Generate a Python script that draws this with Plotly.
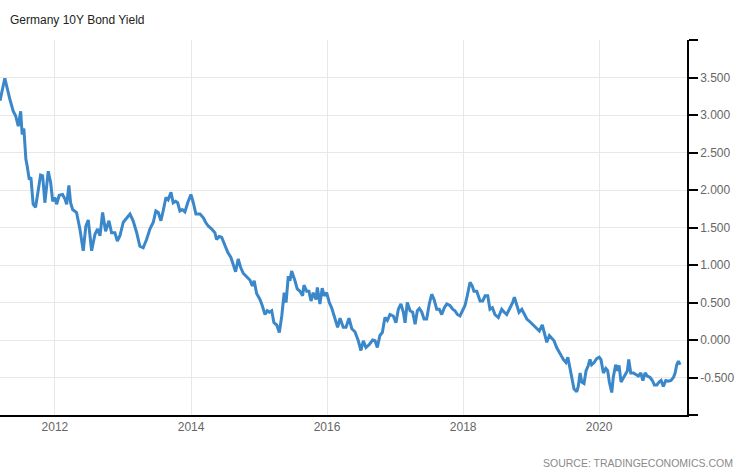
import plotly.graph_objects as go

dates = [
    "2011-03-12", "2011-04-07", "2011-05-04", "2011-05-22", "2011-06-04", "2011-06-18",
    "2011-07-01", "2011-07-09", "2011-07-18", "2011-07-29", "2011-08-05", "2011-08-16",
    "2011-08-25", "2011-09-06", "2011-09-19", "2011-10-03", "2011-10-16", "2011-10-27",
    "2011-11-08", "2011-11-26", "2011-12-09", "2011-12-20",
    "2012-01-01", "2012-01-10", "2012-01-24", "2012-02-11", "2012-02-24", "2012-03-04",
    "2012-03-16", "2012-03-25", "2012-04-05", "2012-04-26", "2012-05-14", "2012-06-01",
    "2012-06-15", "2012-06-28", "2012-07-16", "2012-08-03", "2012-08-17", "2012-08-30",
    "2012-09-13", "2012-09-29", "2012-10-17", "2012-10-31", "2012-11-18", "2012-12-01",
    "2012-12-15",
    "2013-01-02", "2013-01-20", "2013-02-07", "2013-02-24", "2013-03-15", "2013-04-01",
    "2013-04-19", "2013-05-07", "2013-05-25", "2013-06-12", "2013-06-26", "2013-07-09",
    "2013-07-23", "2013-08-04", "2013-08-19", "2013-08-31", "2013-09-15", "2013-09-27",
    "2013-10-10", "2013-10-21", "2013-11-02", "2013-11-15", "2013-11-29", "2013-12-14",
    "2013-12-31",
    "2014-01-13", "2014-01-27", "2014-02-18", "2014-03-08", "2014-03-20", "2014-04-03",
    "2014-04-22", "2014-05-09", "2014-05-18", "2014-05-31", "2014-06-14", "2014-07-02",
    "2014-07-17", "2014-08-03", "2014-08-15", "2014-08-28", "2014-09-11", "2014-09-24",
    "2014-10-08", "2014-10-26", "2014-11-13", "2014-11-26", "2014-12-06", "2014-12-19",
    "2015-01-06", "2015-01-18", "2015-02-02", "2015-02-14", "2015-02-25", "2015-03-10",
    "2015-03-22", "2015-04-06", "2015-04-20", "2015-05-03", "2015-05-16", "2015-05-26",
    "2015-06-07", "2015-06-16", "2015-06-25", "2015-07-13", "2015-07-25", "2015-08-09",
    "2015-08-23", "2015-08-30", "2015-09-14", "2015-09-26", "2015-10-07", "2015-10-19",
    "2015-11-03", "2015-11-10", "2015-11-24", "2015-12-06", "2015-12-17", "2015-12-30",
    "2016-01-13", "2016-01-26", "2016-02-09", "2016-02-27", "2016-03-11", "2016-03-28",
    "2016-04-12", "2016-04-28", "2016-05-13", "2016-05-30", "2016-06-17", "2016-07-01",
    "2016-07-14", "2016-07-28", "2016-08-15", "2016-09-02", "2016-09-15", "2016-09-27",
    "2016-10-11", "2016-10-24", "2016-11-07", "2016-11-20", "2016-12-04", "2016-12-22",
    "2017-01-05", "2017-01-18", "2017-02-01", "2017-02-14", "2017-02-23", "2017-03-07",
    "2017-03-22", "2017-04-05", "2017-04-18", "2017-04-30", "2017-05-11", "2017-05-24",
    "2017-06-05", "2017-06-19", "2017-07-03", "2017-07-16", "2017-07-29", "2017-08-12",
    "2017-08-26", "2017-09-08", "2017-09-22", "2017-10-05", "2017-10-22", "2017-11-06",
    "2017-11-18", "2017-12-01", "2017-12-15", "2017-12-30",
    "2018-01-11", "2018-01-23", "2018-02-07", "2018-02-19", "2018-02-28", "2018-03-15",
    "2018-04-02", "2018-04-16", "2018-04-29", "2018-05-13", "2018-05-25", "2018-06-07",
    "2018-06-21", "2018-07-09", "2018-07-27", "2018-08-10", "2018-08-23", "2018-09-10",
    "2018-09-24", "2018-10-03", "2018-10-16", "2018-10-28", "2018-11-12", "2018-11-24",
    "2018-12-09", "2018-12-27",
    "2019-01-17", "2019-02-03", "2019-02-14", "2019-03-02", "2019-03-11", "2019-03-26",
    "2019-04-09", "2019-04-22", "2019-05-04", "2019-05-18", "2019-06-05", "2019-06-23",
    "2019-07-07", "2019-07-17", "2019-07-29", "2019-08-10", "2019-08-19", "2019-09-03",
    "2019-09-11", "2019-09-21", "2019-09-30", "2019-10-12", "2019-10-23", "2019-11-04",
    "2019-11-13", "2019-11-22", "2019-12-05", "2019-12-19",
    "2020-01-02", "2020-01-11", "2020-01-24", "2020-02-06", "2020-02-16", "2020-02-25",
    "2020-03-09", "2020-03-17", "2020-03-30", "2020-04-08", "2020-04-17", "2020-04-28",
    "2020-05-10", "2020-05-23", "2020-06-01", "2020-06-08", "2020-06-19", "2020-07-03",
    "2020-07-17", "2020-07-30", "2020-08-12", "2020-08-23", "2020-09-04", "2020-09-16",
    "2020-10-01", "2020-10-13", "2020-10-24", "2020-11-06", "2020-11-18", "2020-11-29",
    "2020-12-11", "2020-12-24",
    "2021-01-07", "2021-01-21", "2021-02-03", "2021-02-12", "2021-02-21", "2021-03-02",
    "2021-03-11",
]

yields = [
    3.19, 3.49, 3.21, 3.05, 2.99, 2.85,
    3.05, 2.74, 2.82, 2.41, 2.32, 2.14,
    2.17, 1.81, 1.77, 2.01, 2.20, 2.19,
    1.83, 2.25, 2.10, 1.85,
    1.90, 1.81, 1.93, 1.94, 1.88, 1.81,
    2.06, 1.83, 1.74, 1.70, 1.48, 1.19,
    1.52, 1.60, 1.19, 1.41, 1.48, 1.39,
    1.70, 1.45, 1.59, 1.43, 1.43, 1.32,
    1.39,
    1.57, 1.63, 1.68, 1.59, 1.43, 1.25,
    1.23, 1.34, 1.48, 1.57, 1.72, 1.70,
    1.59, 1.72, 1.90, 1.87, 1.97, 1.83,
    1.85, 1.83, 1.72, 1.74, 1.71, 1.83,
    1.94,
    1.83, 1.68, 1.68, 1.63, 1.57, 1.52,
    1.48, 1.43, 1.34, 1.38, 1.37, 1.25,
    1.17, 1.10, 1.01, 0.91, 1.08, 0.97,
    0.89, 0.85, 0.80, 0.72, 0.79, 0.62,
    0.54, 0.46, 0.34, 0.39, 0.37, 0.39,
    0.23, 0.20, 0.10, 0.32, 0.63, 0.50,
    0.85, 0.79, 0.92, 0.79, 0.68, 0.65,
    0.59, 0.73, 0.65, 0.65, 0.52, 0.63,
    0.54, 0.70, 0.48, 0.69, 0.59, 0.63,
    0.50, 0.43, 0.30, 0.17, 0.29, 0.17,
    0.17, 0.29, 0.15, 0.11, -0.01, -0.14,
    -0.01, -0.10, -0.06, 0.00, -0.01, -0.10,
    0.06, 0.10, 0.30, 0.26, 0.34, 0.32,
    0.23, 0.41, 0.48, 0.37, 0.23, 0.50,
    0.39, 0.37, 0.21, 0.39, 0.42, 0.37,
    0.28, 0.28, 0.48, 0.61, 0.54, 0.41,
    0.41, 0.34, 0.43, 0.48, 0.46, 0.41,
    0.39, 0.34, 0.32, 0.41,
    0.46, 0.59, 0.77, 0.72, 0.65, 0.65,
    0.52, 0.52, 0.59, 0.59, 0.41, 0.43,
    0.34, 0.30, 0.41, 0.37, 0.34, 0.43,
    0.50, 0.57, 0.48, 0.37, 0.41, 0.35,
    0.28, 0.24,
    0.19, 0.14, 0.12, 0.20, 0.10, -0.03,
    0.06, 0.03, -0.01, -0.10, -0.19, -0.26,
    -0.30, -0.23, -0.38, -0.54, -0.65, -0.69,
    -0.62, -0.44, -0.56, -0.58, -0.41, -0.34,
    -0.26, -0.33, -0.30, -0.25,
    -0.23, -0.26, -0.44, -0.38, -0.41, -0.56,
    -0.70, -0.50, -0.33, -0.41, -0.34, -0.56,
    -0.50, -0.44, -0.41, -0.26, -0.44, -0.44,
    -0.46, -0.48, -0.44, -0.54, -0.44, -0.48,
    -0.50, -0.54, -0.60, -0.60, -0.56, -0.54,
    -0.62, -0.54,
    -0.55, -0.54, -0.50, -0.44, -0.33, -0.28,
    -0.33,
]

y_tick_values = [-1.0, -0.5, 0.0, 0.5, 1.0, 1.5, 2.0, 2.5, 3.0, 3.5, 4.0]
y_tick_labels = ["", "-0.500", "0.000", "0.500", "1.000", "1.500", "2.000",
                 "2.500", "3.000", "3.500", ""]

title_text = "Germany 10Y Bond Yield"
source_text = "SOURCE: TRADINGECONOMICS.COM"

FONT = "Liberation Sans, Arial, sans-serif"

fig = go.Figure()
fig.add_trace(go.Scatter(
    x=dates, y=yields, mode="lines",
    line=dict(color="#3a87c9", width=3),
    hoverinfo="x+y", showlegend=False,
))

fig.update_layout(
    width=746, height=468,
    margin=dict(l=0, r=59, t=40, b=53, autoexpand=False),
    paper_bgcolor="white", plot_bgcolor="white",
    font=dict(family=FONT, size=12, color="#666666"),
    title=dict(text=title_text, x=10 / 746, xanchor="left", xref="container",
               y=1 - 20 / 468, yanchor="middle", yref="container",
               font=dict(family=FONT, size=12, color="#222222")),
    xaxis=dict(
        type="date",
        range=["2011-03-12", "2021-04-17"],
        tick0="2012-01-01", dtick="M24", tickformat="%Y",
        showgrid=True, gridcolor="#e8e8e8", gridwidth=1,
        showline=True, linecolor="#000000", linewidth=1.5,
        ticks="", zeroline=False, automargin=False,
        tickfont=dict(family=FONT, size=12, color="#666666"),
    ),
    yaxis=dict(
        side="right", range=[-1.0, 4.0],
        tickmode="array", tickvals=y_tick_values, ticktext=y_tick_labels,
        showgrid=True, gridcolor="#e8e8e8", gridwidth=1,
        showline=True, linecolor="#000000", linewidth=1.5,
        ticks="outside", ticklen=9, tickcolor="#000000", tickwidth=1.5,
        zeroline=False, automargin=False,
        tickfont=dict(family=FONT, size=12, color="#666666"),
    ),
    annotations=[dict(
        text=source_text, xref="paper", yref="paper",
        x=(735 - 0) / 687, y=-(463 - 415) / 375,
        xanchor="right", yanchor="middle", showarrow=False,
        font=dict(family=FONT, size=10.5, color="#8a8a8a"),
    )],
)

fig.write_html("out.html", config={"displayModeBar": False},
               post_script="document.body.style.margin='0';")
